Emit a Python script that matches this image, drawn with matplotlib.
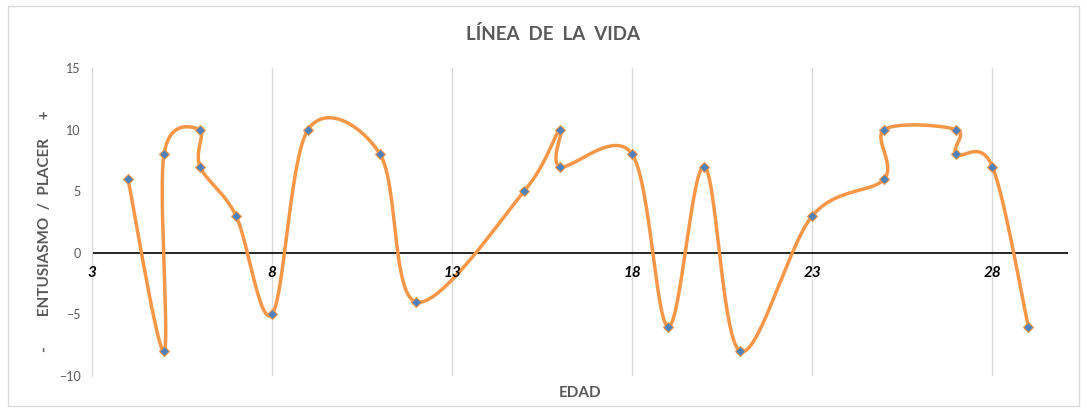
import numpy as np
import matplotlib
matplotlib.use("Agg")
import matplotlib.pyplot as plt
from matplotlib.patches import Rectangle

plt.rcParams['font.family'] = ['Lato', 'DejaVu Sans']

# edad / entusiasmo
edad = [4, 5, 5, 6, 6, 7, 8, 9, 11, 12, 15, 16, 16, 18, 19, 20, 21, 23, 25, 25, 27, 27, 28, 29]
valor = [6, -8, 8, 10, 7, 3, -5, 10, 8, -4, 5, 10, 7, 8, -6, 7, -8, 3, 6, 10, 10, 8, 7, -6]
xticks = [3, 8, 13, 18, 23, 28]
yticks = [-10, -5, 0, 5, 10, 15]

titulo = "LÍNEA  DE  LA  VIDA"
eje_y = "-        ENTUSIASMO  /  PLACER     +"
eje_x = "EDAD"


def suavizar(x, y, n=30):
    # curva tipo Excel: bezier con puntos de control de Catmull-Rom
    p = np.column_stack([x, y]).astype(float)
    p = np.vstack([p[0], p, p[-1]])
    out = []
    t = np.linspace(0, 1, n)[:, None]
    for i in range(1, len(p) - 2):
        p0, p1, p2, p3 = p[i - 1], p[i], p[i + 1], p[i + 2]
        c1 = p1 + (p2 - p0) / 6
        c2 = p2 - (p3 - p1) / 6
        seg = ((1 - t) ** 3) * p1 + 3 * ((1 - t) ** 2) * t * c1 + 3 * (1 - t) * t ** 2 * c2 + t ** 3 * p2
        out.append(seg)
    out = np.vstack(out)
    return out[:, 0], out[:, 1]


fig = plt.figure(figsize=(10.87, 4.11), dpi=100)
fig.patches.append(Rectangle((0.007, 0.012), 0.986, 0.974, transform=fig.transFigure,
                             fill=False, edgecolor='#d9d9d9', linewidth=1))
ax = fig.add_axes([0.0846, 0.0852, 0.8979, 0.7493])

sx, sy = suavizar(edad, valor)
ax.plot(sx, sy, color='#F79646', linewidth=2.5, zorder=3)
ax.plot(edad, valor, linestyle='none', marker='D', markersize=5,
        markerfacecolor='#4F81BD', markeredgecolor='#F79646', markeredgewidth=0.8, zorder=4)

ax.set_xlim(3, 30.1)
ax.set_ylim(-10, 15)
ax.set_xticks(xticks)
ax.set_yticks(yticks)
ax.grid(axis='x', color='#d9d9d9', linewidth=1)
ax.axhline(0, color='black', linewidth=1.2, zorder=2)

for s in ['top', 'right', 'bottom']:
    ax.spines[s].set_visible(False)
ax.spines['left'].set_color('#d9d9d9')
ax.tick_params(length=0)
ax.tick_params(axis='y', labelsize=9, labelcolor='#595959', pad=8)
ax.set_xticklabels([])
for v in xticks:
    ax.text(v, -1.6, str(v), ha='center', va='center', fontsize=11,
            fontweight='bold', fontstyle='italic', color='black')

ax.set_xlabel(eje_x, fontsize=11, fontweight='bold', color='#595959', labelpad=4)
ax.set_ylabel(eje_y, fontsize=11, fontweight='bold', color='#595959')
ax.yaxis.set_label_coords(-0.041, 0.47)
fig.text(0.509, 0.918, titulo, ha='center', va='center', fontsize=13.5,
         fontweight='bold', color='#595959')

fig.savefig('out.png', dpi=100)
